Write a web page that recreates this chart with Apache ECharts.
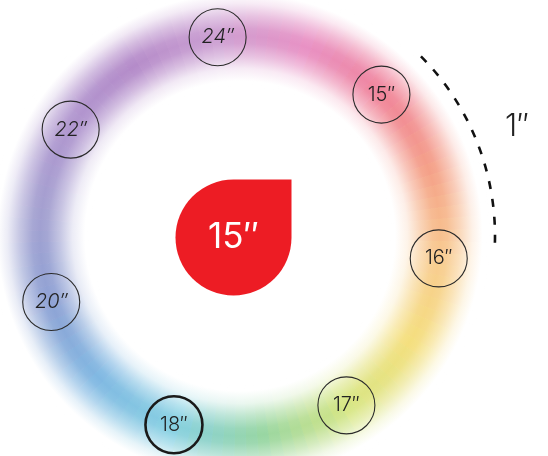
<!DOCTYPE html>
<html lang="en">
<head>
    <meta charset="UTF-8">
    <title>Size ring</title>
    <script src="https://cdn.jsdelivr.net/npm/echarts@6/dist/echarts.min.js"></script>
    <style>
        html, body { margin: 0; padding: 0; background: #fff; }
        #main { width: 548px; height: 456px; }
    </style>
</head>
<body>
<div id="main"></div>

<script type="text/javascript">
    // sizes round the ring, clockwise from the top right
    var sizes = ['15″', '16″', '17″', '18″', '20″', '22″', '24″'];
    var selectedSize = '15″';
    var boldSize = '18″';
    var italicSizes = ['20″', '22″', '24″'];
    var stepLabel = '1″';
    // ring colour at each size and half way to the next one
    var ringColors = [
        '#f0849a', '#f4a088', '#f8cb90', '#f4df7e', '#d7e684', '#98d6a2', '#86d0e2',
        '#80b8e2', '#8fa2d4', '#a3a0d0', '#b097cf', '#b48bc9', '#cc9fd2', '#e891c4'
    ];

    var cx = 240, cy = 236, ringR = 200, outerR = 250;
    var sliceSteps = 8;

    function hexRgb(h) {
        return [parseInt(h.substr(1, 2), 16), parseInt(h.substr(3, 2), 16), parseInt(h.substr(5, 2), 16)];
    }
    function mix(a, b, t) {
        return [a[0] + (b[0] - a[0]) * t, a[1] + (b[1] - a[1]) * t, a[2] + (b[2] - a[2]) * t];
    }
    function rgb(c) {
        return 'rgb(' + Math.round(c[0]) + ',' + Math.round(c[1]) + ',' + Math.round(c[2]) + ')';
    }

    // soft edge of the band, from white to full colour and back
    var profile = [[0.62, 0], [0.67, 0.2], [0.72, 0.6], [0.77, 0.93], [0.80, 1],
                   [0.83, 0.93], [0.88, 0.6], [0.93, 0.2], [0.97, 0]];
    var white = [255, 255, 255];

    var slices = [];
    var n = ringColors.length * sliceSteps;
    for (var i = 0; i < n; i++) {
        var k = Math.floor(i / sliceSteps);
        var c = mix(hexRgb(ringColors[k]), hexRgb(ringColors[(k + 1) % ringColors.length]), (i % sliceSteps) / sliceSteps);
        var grad = {
            type: 'radial', x: cx, y: cy, r: outerR, global: true,
            colorStops: profile.map(function (p) {
                return { offset: p[0], color: rgb(mix(white, c, p[1])) };
            })
        };
        slices.push({ value: 1, itemStyle: { color: grad, borderColor: grad, borderWidth: 1 } });
    }

    var chartDom = document.getElementById('main');
    var myChart = echarts.init(chartDom);
    var band = 360 / sizes.length;

    var option = {
        animation: false,
        polar: { center: [cx, cy], radius: ringR },
        angleAxis: {
            type: 'category',
            data: sizes,
            startAngle: 45 + band / 2,
            clockwise: true,
            boundaryGap: true,
            axisLine: { show: false },
            axisTick: { show: false },
            axisLabel: { show: false },
            splitLine: { show: false }
        },
        radiusAxis: {
            type: 'value', min: 0, max: 1,
            axisLine: { show: false },
            axisTick: { show: false },
            axisLabel: { show: false },
            splitLine: { show: false }
        },
        series: [
            {
                type: 'pie',
                silent: true,
                center: [cx, cy],
                radius: [150, outerR],
                startAngle: 45 + 180 / n,
                clockwise: true,
                label: { show: false },
                labelLine: { show: false },
                data: slices,
                z: 0
            },
            {
                type: 'scatter',
                coordinateSystem: 'polar',
                silent: true,
                symbol: 'circle',
                symbolSize: 57,
                itemStyle: { color: 'rgba(0,0,0,0)', borderColor: '#2a2a2a', borderWidth: 1.1, opacity: 1 },
                label: {
                    show: true,
                    position: 'inside',
                    formatter: '{b}',
                    fontFamily: 'Inter',
                    fontWeight: 300,
                    fontSize: 20,
                    color: '#222'
                },
                data: sizes.map(function (s) {
                    var d = { name: s, value: [1, s] };
                    if (italicSizes.indexOf(s) >= 0) d.label = { fontStyle: 'italic' };
                    if (s === boldSize) d.itemStyle = { borderWidth: 2.6, borderColor: '#1a1a1a' };
                    return d;
                }),
                z: 3
            },
            {
                type: 'scatter',
                coordinateSystem: 'polar',
                silent: true,
                symbol: 'path://M1,0 L2,0 L2,1 A1,1 0 1 1 1,0 Z',
                symbolSize: 116,
                symbolOffset: [-6.5, 1.5],
                itemStyle: { color: '#ed1c24', opacity: 1 },
                label: {
                    show: true,
                    position: 'inside',
                    formatter: '{b}',
                    fontFamily: 'Inter',
                    fontWeight: 400,
                    fontSize: 35,
                    color: '#fff'
                },
                data: [{ name: selectedSize, value: [0, selectedSize] }],
                z: 4
            }
        ],
        graphic: [
            {
                type: 'arc',
                silent: true,
                shape: { cx: cx, cy: cy, r: 255, startAngle: -44.8 * Math.PI / 180, endAngle: 3.2 * Math.PI / 180, clockwise: true },
                style: { fill: null, stroke: '#111', lineWidth: 2.6, lineDash: [8, 10] },
                z: 10
            },
            {
                type: 'text',
                silent: true,
                x: 517, y: 127,
                style: {
                    text: stepLabel, fill: '#222', font: '300 31px Inter',
                    align: 'center', verticalAlign: 'middle'
                },
                z: 10
            }
        ]
    };

    option && myChart.setOption(option);
</script>
</body>
</html>
